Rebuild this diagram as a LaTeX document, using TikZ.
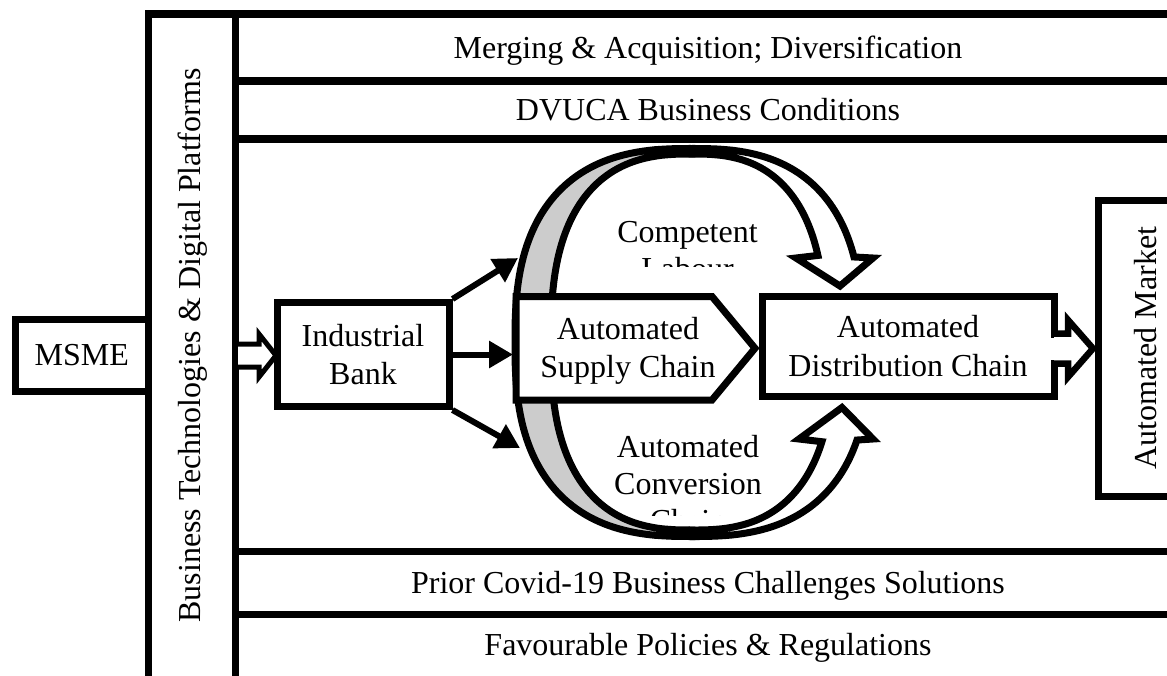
\documentclass[tikz,border=0pt]{standalone}
\usepackage{fontspec}
\setmainfont{Liberation Serif}
\usetikzlibrary{arrows.meta,calc}
\newcommand{\diagfont}{\fontsize{32}{38.3}\selectfont}
\newcommand{\ringfont}{\fontsize{32}{37}\selectfont}
\begin{document}
\begin{tikzpicture}[x=1pt,y=-1pt,
  declare function={cq(\t)=pow(max(cos(\t),0.0001),0.7692); sq(\t)=pow(max(sin(\t),0.0001),0.7692);},
  frameline/.style={line width=7.5pt},
  box/.style={draw, line width=7pt, fill=white, inner sep=0pt, align=center, font=\diagfont},
  lbl/.style={inner sep=0pt, anchor=base, font=\diagfont},
  txt/.style={inner sep=0pt, align=center, font=\ringfont},
  ribbon/.style={draw, line width=7pt, line join=miter},
  feed/.style={line width=6pt, -{Triangle[length=24pt,width=26pt]}},
  block/.style={draw, fill=white, line join=miter},
]
\clip (0,0) rectangle (1167,675);
\fill[white] (0,0) rectangle (1167,675);

% outer frame and horizontal bands
\draw[frameline] (148.5,690) -- (148.5,14) -- (1190,14);
\draw[frameline] (235.5,14) -- (235.5,690);
\foreach \yy in {81,139,551.5,614.5} \draw[frameline] (235.5,\yy) -- (1190,\yy);

\node[lbl] (band1) at (708,58) {Merging \& Acquisition; Diversification};
\node[lbl] (band2) at (708,120.5) {DVUCA Business Conditions};
\node[lbl] (band3) at (708,593.5) {Prior Covid-19 Business Challenges Solutions};
\node[lbl] (band4) at (708,655) {Favourable Policies \& Regulations};
\node[lbl, rotate=90] (tech) at (200,345.5) {Business Technologies \& Digital Platforms};

% shaded back part of the cycle
\filldraw[ribbon, fill=black!20]
  plot[domain=0:90, samples=50] ({692-177*sq(\x)},{342.5+194*cq(\x)})
  -- plot[domain=0:90, samples=50] ({692-177*cq(\x)},{342.5-194*sq(\x)})
  -- plot[domain=0:90, samples=50] ({692-141*sq(\x)},{342-188*cq(\x)})
  -- plot[domain=0:90, samples=50] ({692-141*cq(\x)},{342+188*sq(\x)})
  -- cycle;

% upper curved arrow
\filldraw[ribbon, fill=white]
  plot[domain=0:69.83, samples=50] ({692+170*sq(\x)},{342.5-194*cq(\x)})
  -- (873,258) -- (840,286) -- (796,258)
  -- plot[domain=21.4:90, samples=50] ({692+133*cq(\x)},{342-188*sq(\x)})
  -- cycle;

% lower curved arrow
\filldraw[ribbon, fill=white]
  plot[domain=0:65.86, samples=50] ({692+177*sq(\x)},{342.5+194*cq(\x)})
  -- (873,439) -- (842,407.5) -- (799,439)
  -- plot[domain=26.0:90, samples=50] ({692+141*cq(\x)},{342+188*sq(\x)})
  -- cycle;

\begin{scope}
  \clip (560,200) rectangle (820,266);
  \node[txt] (labour) at (687.5,250.7) {Competent\\Labour};
\end{scope}
\begin{scope}
  \clip (560,420) rectangle (820,515);
  \node[txt] (conversion) at (688,484) {Automated\\Conversion\\Chain};
\end{scope}

% supply chain pentagon
\node[inner sep=0pt, outer sep=0pt, minimum width=239pt, minimum height=103.5pt] (supply) at (635.5,348.25) {};
\draw[line width=7pt, line join=miter, fill=white]
  (supply.north west) -- ([xshift=-43pt]supply.north east) -- (supply.east)
  -- ([xshift=-43pt]supply.south east) -- (supply.south west) -- cycle;
\node[txt, font=\diagfont] (supplytext) at (628,351) {Automated\\Supply Chain};

\node[box, minimum width=292pt, minimum height=100pt] (dist) at (908,346) {Automated\\Distribution Chain};
\node[box, rotate=90, minimum width=296pt, minimum height=96pt] (market) at (1146,348) {Automated Market};

% block arrow from distribution to market
\fill[white] (1049,337.5) rectangle (1069,359.5);
\draw[block, line width=6.5pt] (1054,333.5) -- (1068,333.5) -- (1068,320) -- (1093,348.5)
  -- (1068,377) -- (1068,363.5) -- (1054,363.5);

\node[box, minimum width=172pt, minimum height=104pt] (bank) at (363,354.5) {Industrial\\Bank};
\node[box, minimum width=133.5pt, minimum height=71.5pt] (msme) at (81.75,355.25) {MSME};

% hollow arrow into the bank
\draw[block, line width=5pt] (238,344) -- (259,344) -- (259,334) -- (276,355.5)
  -- (259,377) -- (259,367) -- (238,367);

% feeds from the bank
\coordinate (cT) at (518,258);
\coordinate (cB) at (520,448);
\coordinate (midT) at (bank.east -| supply.west);
\draw[feed] (bank.north east) -- (cT);
\draw[feed] (bank.east) -- ([xshift=-3pt]midT);
\draw[feed] (bank.south east) -- (cB);
\end{tikzpicture}
\end{document}
